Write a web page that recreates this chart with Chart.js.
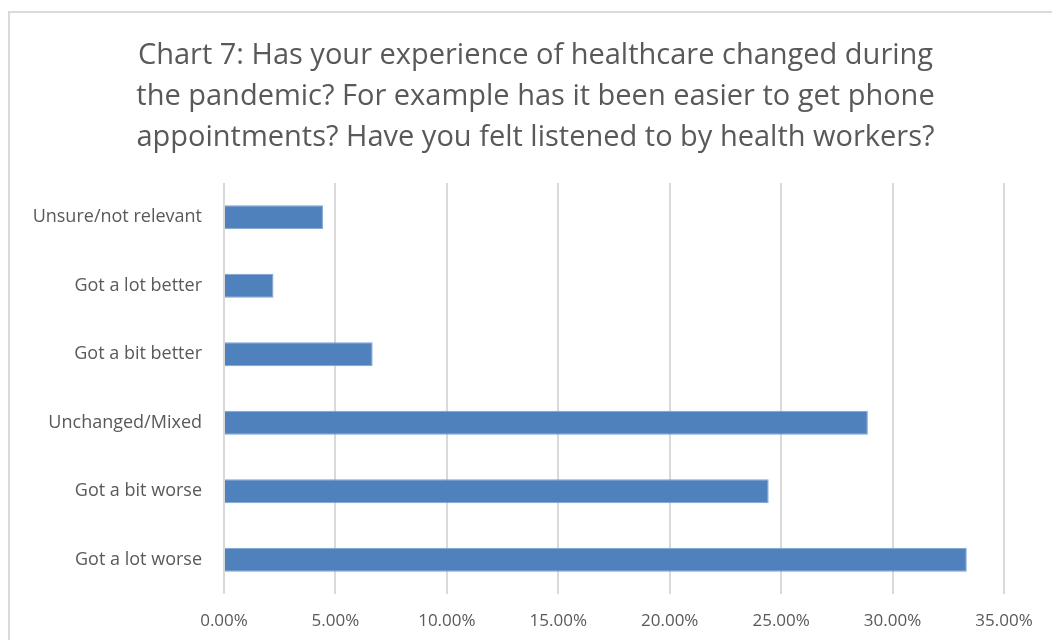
<!DOCTYPE html>
<html>
<head>
<meta charset="utf-8">
<script src="https://cdn.jsdelivr.net/npm/chart.js@4/dist/chart.umd.min.js"></script>
<style>
  body { margin: 0; background: #fff; overflow: hidden; }
  .frame {
    position: absolute; left: 8px; top: 11px;
    width: 1100px; height: 700px;
    border: 2px solid #d9d9d9;
  }
  .wrap { position: absolute; left: 0; top: 0; width: 1052px; height: 640px; }
</style>
</head>
<body>
<div class="frame"></div>
<div class="wrap"><canvas id="chart"></canvas></div>
<script>
const categories = ['Unsure/not relevant', 'Got a lot better', 'Got a bit better', 'Unchanged/Mixed', 'Got a bit worse', 'Got a lot worse'];
const shares = [4.44, 2.22, 6.67, 28.89, 24.44, 33.33];
const titleLines = [
  'Chart 7: Has your experience of healthcare changed during',
  'the pandemic? For example has it been easier to get phone',
  'appointments? Have you felt listened to by health workers?'
];

const textGray = '#595959';
const ctx = document.querySelector('#chart').getContext('2d');

// centre the title over the whole frame rather than the padded box
const titleShift = {
  id: 'titleShift',
  afterLayout(chart) {
    if (chart.titleBlock) chart.titleBlock.left = 67;
  }
};

new Chart(ctx, {
  type: 'bar',
  data: {
    labels: categories,
    datasets: [{
      data: shares,
      backgroundColor: '#4f81bd',
      borderColor: '#7da2d1',
      borderWidth: 1,
      categoryPercentage: 1,
      barPercentage: 0.35
    }]
  },
  options: {
    indexAxis: 'y',
    responsive: true,
    maintainAspectRatio: false,
    animation: false,
    layout: { padding: { left: 0, right: 48, top: 0, bottom: 0 } },
    plugins: {
      legend: { display: false },
      tooltip: { enabled: false },
      title: {
        display: true,
        text: titleLines,
        color: textGray,
        font: { family: 'Open Sans', size: 29, weight: 'normal', lineHeight: 1.414 },
        padding: { top: 35, bottom: 25 }
      }
    },
    scales: {
      x: {
        min: 0,
        max: 35,
        ticks: {
          stepSize: 5,
          color: textGray,
          font: { family: 'Open Sans', size: 17 },
          padding: 17,
          callback: v => v.toFixed(2) + '%'
        },
        grid: { color: '#d9d9d9', lineWidth: 2, drawTicks: false },
        border: { display: false },
        afterFit: s => { s.height = 46; }
      },
      y: {
        ticks: {
          color: textGray,
          font: { family: 'Open Sans', size: 18 },
          padding: 14
        },
        grid: { display: false },
        border: { display: false },
        afterFit: s => { s.width = 224; }
      }
    }
  },
  plugins: [titleShift]
});
</script>
</body>
</html>
